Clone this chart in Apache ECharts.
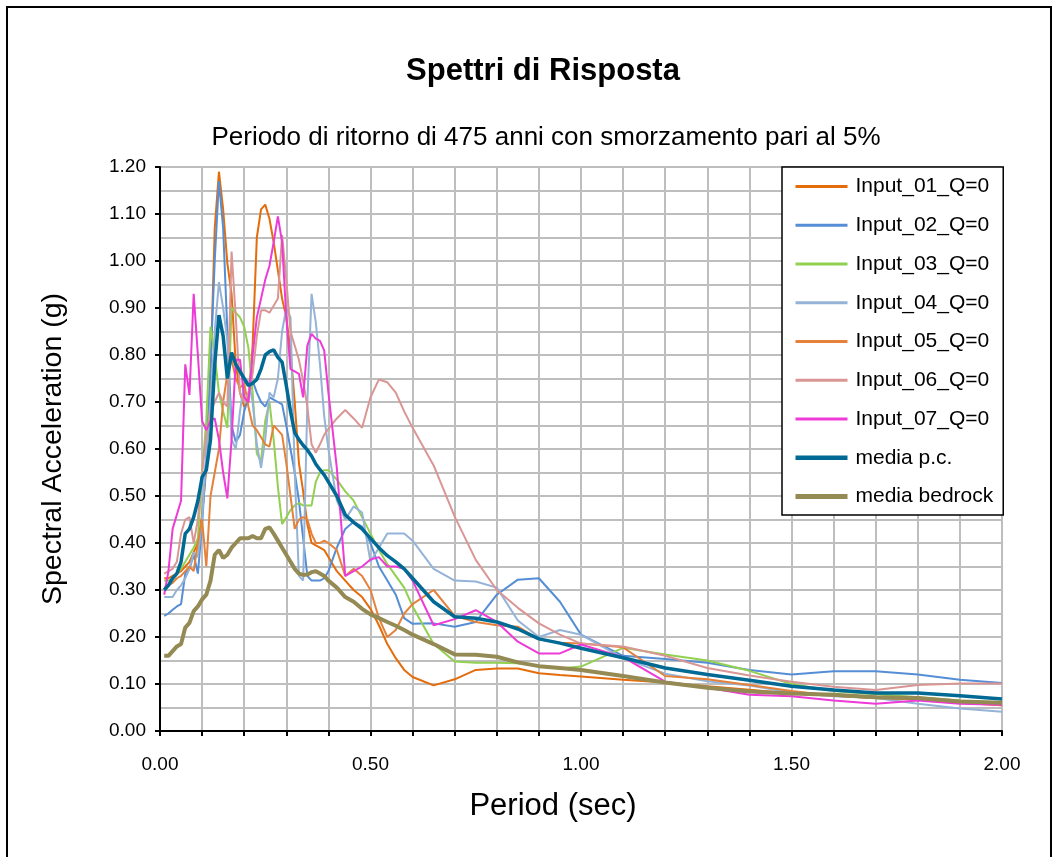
<!DOCTYPE html>
<html>
<head>
<meta charset="utf-8">
<script src="https://cdn.jsdelivr.net/npm/echarts@6/dist/echarts.min.js"></script>
<style>
html,body{margin:0;padding:0;background:#fff;}
#chart{width:1058px;height:857px;}
</style>
</head>
<body>
<div id="chart"></div>
<script>
const periods = [
0.01,0.02,0.03,0.04,0.05,0.06,0.07,0.08,0.09,0.10,
0.11,0.12,0.13,0.14,0.15,0.16,0.17,0.18,0.19,0.20,
0.21,0.22,0.23,0.24,0.25,0.26,0.27,0.28,0.29,0.30,
0.31,0.32,0.33,0.34,0.35,0.36,0.37,0.38,0.39,0.40,
0.42,0.44,0.46,0.48,0.50,0.52,0.54,0.56,0.58,0.60,
0.65,0.70,0.75,0.80,0.85,0.90,0.95,1.00,
1.1,1.2,1.3,1.4,1.5,1.6,1.7,1.8,1.9,2.0];

const input01 = [
0.325,0.325,0.33,0.335,0.34,0.35,0.36,0.38,0.40,0.46,
0.56,0.76,1.07,1.19,1.11,0.995,0.93,0.78,0.72,0.69,
0.70,0.82,1.05,1.11,1.12,1.09,1.04,0.98,0.92,0.88,
0.81,0.70,0.57,0.51,0.44,0.40,0.395,0.39,0.385,0.37,
0.34,0.32,0.30,0.285,0.26,0.225,0.185,0.155,0.13,0.115,
0.097,0.11,0.13,0.133,0.133,0.123,0.119,0.116,
0.109,0.103,0.095,0.088,0.08,0.075,0.07,0.067,0.06,0.055];

const input02 = [
0.245,0.25,0.258,0.265,0.27,0.335,0.345,0.375,0.335,0.44,
0.58,0.78,1.00,1.17,1.07,0.85,0.65,0.615,0.63,0.68,
0.71,0.745,0.72,0.70,0.69,0.71,0.705,0.70,0.695,0.65,
0.60,0.55,0.49,0.41,0.33,0.32,0.32,0.32,0.325,0.34,
0.39,0.43,0.445,0.435,0.40,0.35,0.32,0.29,0.24,0.228,
0.229,0.222,0.232,0.29,0.322,0.325,0.275,0.205,
0.16,0.153,0.145,0.13,0.12,0.127,0.127,0.12,0.109,0.102];

const input03 = [
0.32,0.32,0.325,0.335,0.345,0.36,0.375,0.39,0.41,0.55,
0.66,0.86,0.80,0.72,0.68,0.645,0.90,0.89,0.88,0.86,
0.815,0.72,0.59,0.575,0.66,0.70,0.62,0.52,0.44,0.455,
0.47,0.48,0.485,0.48,0.48,0.48,0.53,0.55,0.555,0.555,
0.535,0.51,0.49,0.455,0.42,0.385,0.355,0.33,0.305,0.265,
0.185,0.148,0.145,0.145,0.144,0.138,0.133,0.137,
0.177,0.163,0.15,0.128,0.10,0.085,0.078,0.072,0.065,0.06];

const input04 = [
0.285,0.285,0.285,0.30,0.31,0.325,0.345,0.38,0.37,0.45,
0.60,0.70,0.85,0.955,0.90,0.83,0.62,0.60,0.68,0.74,
0.745,0.70,0.61,0.56,0.62,0.72,0.71,0.75,0.85,0.90,
0.88,0.55,0.33,0.32,0.70,0.93,0.87,0.78,0.67,0.60,
0.49,0.45,0.478,0.465,0.36,0.39,0.42,0.42,0.42,0.405,
0.345,0.32,0.318,0.305,0.235,0.20,0.215,0.205,
0.155,0.122,0.106,0.097,0.082,0.074,0.07,0.058,0.048,0.041];

const input05 = [
0.305,0.31,0.315,0.325,0.33,0.34,0.35,0.34,0.40,0.45,
0.35,0.50,0.55,0.60,0.70,0.76,0.79,0.75,0.73,0.74,
0.69,0.65,0.64,0.625,0.61,0.605,0.65,0.64,0.63,0.57,
0.50,0.43,0.45,0.455,0.45,0.42,0.40,0.40,0.405,0.40,
0.385,0.33,0.345,0.33,0.30,0.24,0.20,0.215,0.25,0.27,
0.30,0.245,0.232,0.225,0.222,0.195,0.188,0.186,
0.178,0.117,0.11,0.098,0.085,0.075,0.07,0.068,0.062,0.055];

const input06 = [
0.335,0.34,0.345,0.36,0.42,0.45,0.455,0.40,0.45,0.55,
0.63,0.68,0.70,0.72,0.70,0.69,1.02,0.88,0.72,0.70,
0.72,0.76,0.84,0.895,0.895,0.89,0.905,0.92,1.055,0.96,
0.85,0.82,0.79,0.745,0.69,0.61,0.592,0.61,0.63,0.643,
0.665,0.683,0.665,0.645,0.71,0.748,0.742,0.72,0.68,0.645,
0.565,0.456,0.364,0.30,0.262,0.229,0.205,0.186,
0.18,0.16,0.134,0.118,0.105,0.094,0.087,0.098,0.101,0.101];

const input07 = [
0.29,0.34,0.43,0.46,0.49,0.78,0.715,0.93,0.80,0.66,
0.64,0.66,0.665,0.62,0.55,0.495,0.62,0.79,0.79,0.71,
0.70,0.80,0.88,0.92,0.96,0.99,1.04,1.095,1.04,0.88,
0.77,0.765,0.76,0.71,0.82,0.845,0.835,0.83,0.81,0.72,
0.56,0.33,0.34,0.35,0.365,0.37,0.35,0.35,0.345,0.32,
0.225,0.238,0.257,0.232,0.19,0.165,0.165,0.184,
0.157,0.105,0.092,0.077,0.074,0.065,0.058,0.065,0.058,0.056];

const mediaPC = [
0.30,0.31,0.325,0.335,0.36,0.42,0.43,0.455,0.49,0.54,
0.555,0.62,0.78,0.885,0.84,0.75,0.805,0.78,0.765,0.75,
0.735,0.74,0.748,0.77,0.80,0.807,0.811,0.795,0.785,0.735,
0.68,0.635,0.62,0.608,0.598,0.585,0.568,0.556,0.545,0.53,
0.50,0.46,0.444,0.43,0.41,0.39,0.373,0.36,0.345,0.325,
0.275,0.243,0.24,0.232,0.217,0.196,0.187,0.176,
0.156,0.134,0.12,0.108,0.095,0.087,0.081,0.081,0.075,0.068];

const mediaBedrock = [
0.16,0.16,0.17,0.18,0.185,0.22,0.23,0.255,0.265,0.28,
0.29,0.32,0.375,0.385,0.368,0.375,0.39,0.40,0.41,0.41,
0.41,0.415,0.41,0.41,0.43,0.433,0.42,0.405,0.39,0.375,
0.36,0.345,0.335,0.332,0.333,0.338,0.34,0.335,0.33,0.32,
0.305,0.285,0.275,0.26,0.248,0.24,0.232,0.224,0.215,0.205,
0.185,0.163,0.162,0.158,0.146,0.138,0.134,0.13,
0.117,0.103,0.092,0.084,0.08,0.077,0.072,0.07,0.063,0.06];

const seriesNames = ['Input_01_Q=0','Input_02_Q=0','Input_03_Q=0','Input_04_Q=0','Input_05_Q=0','Input_06_Q=0','Input_07_Q=0','media p.c.','media bedrock'];
const seriesValues = [input01,input02,input03,input04,input05,input06,input07,mediaPC,mediaBedrock];
const seriesColors = ['#E46C0A','#558ED5','#92D050','#95B3D7','#E4823C','#D99694','#EE3AD6','#006A94','#948A54'];
const seriesWidths = [2,2,2,2,2,2,2,3.5,4];
const legendWidths = [3,3,3,3,3,3,3,4.5,5];

const FONT = '"Liberation Sans", Arial, sans-serif';

const chart = echarts.init(document.getElementById('chart'), null, {renderer:'canvas'});
chart.setOption({
  animation:false,
  backgroundColor:'#fff',
  graphic:[{
    type:'rect', shape:{x:7,y:7,width:1044,height:900},
    style:{fill:'none',stroke:'#000',lineWidth:2}, z:-1
  }],
  title:[
    {text:'Spettri di Risposta', left:538, top:51, textAlign:'center',
     textStyle:{fontFamily:FONT,fontSize:31,fontWeight:'bold',color:'#000'}},
    {text:'Periodo di ritorno di 475 anni con smorzamento pari al 5%', left:541, top:120, textAlign:'center',
     textStyle:{fontFamily:FONT,fontSize:26,fontWeight:'normal',color:'#000'}}
  ],
  grid:{left:160,right:56,top:167,bottom:126,containLabel:false},
  legend:{
    orient:'vertical', left:782, top:167,
    padding:[9,10,8,11],
    itemWidth:52, itemHeight:20, itemGap:17.75,
    backgroundColor:'#fff', borderColor:'#000', borderWidth:1.5,
    itemStyle:{opacity:0},
    textStyle:{fontFamily:FONT,fontSize:21,color:'#000',lineHeight:20,padding:[0,0,0,3]},
    data: seriesNames.map(function(n,i){
      return {name:n, lineStyle:{width:legendWidths[i]}};
    })
  },
  xAxis:{
    type:'value', min:0, max:2, interval:0.1,
    name:'Period (sec)', nameLocation:'middle', nameGap:60,
    nameTextStyle:{fontFamily:FONT,fontSize:31,color:'#000',padding:[0,56,0,0]},
    axisLine:{show:true,onZero:false,lineStyle:{color:'#000',width:2}},
    axisTick:{show:true,inside:false,length:5,lineStyle:{color:'#000',width:2}},
    axisLabel:{fontFamily:FONT,fontSize:19,color:'#000',margin:24,
      formatter:function(v){const k=v*2; return Math.abs(k-Math.round(k))<1e-6 ? v.toFixed(2) : '';}},
    splitLine:{show:true,lineStyle:{color:'#BEBEBE',width:2}}
  },
  yAxis:{
    type:'value', min:0, max:1.2, interval:0.1,
    name:'Spectral Acceleration (g)', nameLocation:'middle', nameGap:92,
    nameTextStyle:{fontFamily:FONT,fontSize:28.5,color:'#000'},
    axisLine:{show:true,onZero:false,lineStyle:{color:'#000',width:2}},
    axisTick:{show:true,inside:false,length:5,lineStyle:{color:'#000',width:2}},
    axisLabel:{fontFamily:FONT,fontSize:19,color:'#000',margin:14,
      formatter:function(v){return v.toFixed(2);}},
    splitLine:{show:true,lineStyle:{color:'#BEBEBE',width:2}},
    minorTick:{show:false,splitNumber:2},
    minorSplitLine:{show:true,lineStyle:{color:'#BEBEBE',width:2}}
  },
  series: seriesNames.map(function(name,i){
    return {
      name:name, type:'line', symbol:'none', showSymbol:false,
      z: i>=7 ? 3 : 2,
      color:seriesColors[i],
      lineStyle:{color:seriesColors[i],width:seriesWidths[i]},
      itemStyle:{color:seriesColors[i]},
      data: periods.map(function(p,j){return [p, seriesValues[i][j]];})
    };
  })
});
</script>
</body>
</html>
